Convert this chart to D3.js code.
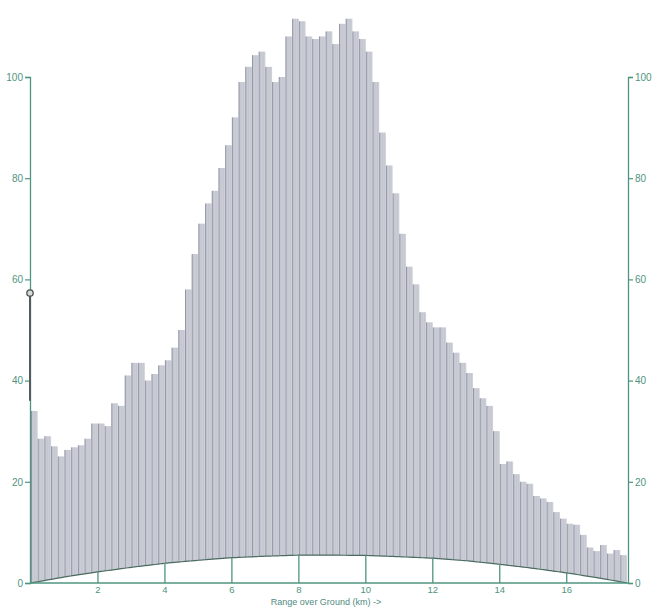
<!DOCTYPE html>
<html><head><meta charset="utf-8">
<script src="https://cdn.jsdelivr.net/npm/d3@7"></script>
<style>body{margin:0;background:#fff}svg{display:block}</style>
</head><body>
<script>
// Terrain profile heights, one per 0.2 km step
const stepKm = 0.2;
const heights = [34,28.5,29,27,25,26.3,26.8,27.2,28.5,31.5,31.5,31,35.5,35,41,43.5,43.5,40,41.3,43,
44,46.5,50,58,65,71,75,77.5,82,86.5,92,99,102,104.3,105,102,99,100,108,111.5,
111,108,107.5,108,109,106.5,110.5,111.5,109,107.5,105,99,89,82.5,77,69,62.5,59,53.5,51.5,
50.5,50.5,47.5,45.5,43.5,41.5,38.5,36.5,35,30,23.5,24,21.5,20,19.6,17.2,16.7,16,14,12.7,
11.7,11.5,9.5,7,6.3,7.5,5.8,6.5,5.5];
// Earth bulge baseline read at whole km
const bulgeKm = [0,1,2,3,4,5,6,7,8,9,10,11,12,13,14,15,16,17,17.8];
const bulgeVal = [0,1.2,2.2,3.1,3.9,4.5,5.0,5.3,5.5,5.5,5.45,5.2,4.9,4.4,3.7,2.9,2.0,0.95,0];
const xTicks = [2,4,6,8,10,12,14,16];
const yTicks = [0,20,40,60,80,100];
const mastTop = 57.3, mastBottom = 36;
const xTitle = "Range over Ground (km) ->";
const maxKm = 17.8;

const W = 654, H = 608;
const axisCol = "#4f9480";
const svg = d3.select("body").append("svg").attr("width", W).attr("height", H);
const x = d3.scaleLinear().domain([0, maxKm]).range([31, 627]);
const y = d3.scaleLinear().domain([0, 100]).range([583, 77]);

const bulge = d3.scaleLinear().domain(bulgeKm).range(bulgeVal);

// bars
const g = svg.append("g");
g.selectAll("rect.bar").data(heights).join("rect")
  .attr("class","bar")
  .attr("x", (d,i) => x(i*stepKm))
  .attr("width", x(stepKm) - x(0))
  .attr("y", d => y(d))
  .attr("height", d => y(0) - y(d))
  .attr("fill", "#cfd1d9");
// thin hatching lines inside bars
g.selectAll("line.hatch").data(heights.flatMap((d,i)=>[0.25,0.5,0.75].map(f=>({d,k:(i+f)*stepKm})))).join("line")
  .attr("x1", o => x(o.k)).attr("x2", o => x(o.k))
  .attr("y1", o => y(o.d)).attr("y2", y(0))
  .attr("stroke", "#c0c3cd").attr("stroke-width", 0.8);
// darker edges
g.selectAll("line.edge").data(heights).join("line")
  .attr("x1", (d,i) => x(i*stepKm)+0.5).attr("x2", (d,i) => x(i*stepKm)+0.5)
  .attr("y1", d => y(d)).attr("y2", y(0))
  .attr("stroke", "#9296a7").attr("stroke-width", 1);

// white area below earth bulge
const bulgePts = d3.range(0, maxKm + 0.001, 0.1).map(k => [k, bulge(Math.min(k, maxKm))]);
const area = d3.area().x(d => x(d[0])).y0(y(0)).y1(d => y(d[1])).curve(d3.curveMonotoneX);
svg.append("path").datum(bulgePts).attr("d", area).attr("fill", "#fff");
const line = d3.line().x(d => x(d[0])).y(d => y(d[1])).curve(d3.curveMonotoneX);
svg.append("path").datum(bulgePts).attr("d", line).attr("fill", "none")
  .attr("stroke", "#4a6b60").attr("stroke-width", 1.2);

// x ticks from axis up to bulge
svg.selectAll("line.xt").data(xTicks).join("line")
  .attr("x1", d => x(d)).attr("x2", d => x(d))
  .attr("y1", y(0)).attr("y2", d => y(bulge(d)))
  .attr("stroke", axisCol).attr("stroke-width", 1.3);
svg.selectAll("text.xl").data(xTicks).join("text")
  .attr("x", d => x(d)).attr("y", 593).attr("text-anchor","middle")
  .attr("font-family","Liberation Sans, Arial, sans-serif").attr("font-size", 9.5)
  .attr("fill", axisCol).text(d => d);

// x axis line
svg.append("line").attr("x1", x(0)-1).attr("x2", x(maxKm)+1).attr("y1", y(0)).attr("y2", y(0))
  .attr("stroke", axisCol).attr("stroke-width", 1.5);

// y axes
const leftAxis = d3.axisLeft(y).tickValues(yTicks).tickSize(5).tickPadding(2);
const rightAxis = d3.axisRight(y).tickValues(yTicks).tickSize(5).tickPadding(2);
const la = svg.append("g").attr("transform", `translate(${x(0)-1},0)`).call(leftAxis);
const ra = svg.append("g").attr("transform", `translate(${x(maxKm)+1},0)`).call(rightAxis);
[la, ra].forEach(a => {
  a.select(".domain").attr("stroke", axisCol).attr("stroke-width", 1.3);
  a.selectAll(".tick line").attr("stroke", axisCol).attr("stroke-width", 1.2);
  a.selectAll(".tick text").attr("fill", axisCol).attr("font-size", 10)
    .attr("font-family","Liberation Sans, Arial, sans-serif");
});

// antenna mast
svg.append("line").attr("x1", x(0)-1).attr("x2", x(0)-1)
  .attr("y1", y(mastTop)).attr("y2", y(mastBottom))
  .attr("stroke", "#555a5e").attr("stroke-width", 2);
svg.append("circle").attr("cx", x(0)-1).attr("cy", y(mastTop)).attr("r", 3.2)
  .attr("fill", "#d8dcd8").attr("stroke", "#4a4f50").attr("stroke-width", 1.3);

// axis title
svg.append("text").attr("x", 326).attr("y", 605).attr("text-anchor","middle")
  .attr("font-family","Liberation Sans, Arial, sans-serif").attr("font-size", 9)
  .attr("fill", "#4f8a80").text(xTitle);
</script>
</body></html>
